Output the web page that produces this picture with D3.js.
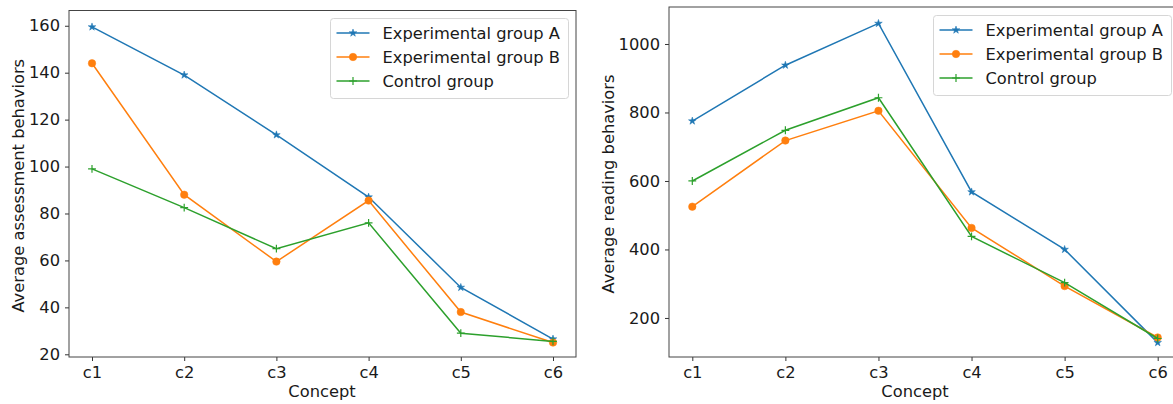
<!DOCTYPE html>
<html>
<head>
<meta charset="utf-8">
<script src="https://cdn.jsdelivr.net/npm/d3@7"></script>
<style>
  body { margin: 0; background: #fff; }
  text { font-family: "DejaVu Sans", sans-serif; fill: #1a1a1a; }
</style>
</head>
<body>
<div id="chart"></div>
<script>
// categories and series
const concepts = ["c1", "c2", "c3", "c4", "c5", "c6"];
const seriesNames = ["Experimental group A", "Experimental group B", "Control group"];
const seriesColors = ["#1f77b4", "#ff7f0e", "#2ca02c"];

// left panel: assessment behaviors
const assessA = [159.5, 139, 113.5, 87, 48.5, 26.5];
const assessB = [144, 88, 59.5, 85.5, 38, 25];
const assessC = [99, 82.5, 65, 76, 29, 25.5];
const assessTicks = [20, 40, 60, 80, 100, 120, 140, 160];

// right panel: reading behaviors
const readA = [775, 938, 1060, 568, 400, 128];
const readB = [525, 718, 805, 463, 293, 143];
const readC = [600, 748, 843, 438, 303, 140];
const readTicks = [200, 400, 600, 800, 1000];

const svg = d3.select("#chart")
    .append("svg")
    .attr("width", 1173)
    .attr("height", 404);

const fontSize = "16.3px";

// draw one panel
function drawPanel(opts) {
    const g = svg.append("g");
    const x = d3.scalePoint().domain(concepts).range([opts.x0 + opts.pad, opts.x1 - opts.pad]);
    const y = d3.scaleLinear().domain(opts.yDomain).range([opts.y1, opts.y0]);

    // axes
    g.append("g")
        .attr("transform", `translate(0,${opts.y1})`)
        .call(d3.axisBottom(x).tickSize(4).tickPadding(5))
        .call(a => a.select(".domain").remove());
    g.append("g")
        .attr("transform", `translate(${opts.x0},0)`)
        .call(d3.axisLeft(y).tickValues(opts.ticks).tickFormat(d3.format("d")).tickSize(4).tickPadding(5))
        .call(a => a.select(".domain").remove());
    g.selectAll(".tick text").style("font-size", fontSize).style("font-family", "DejaVu Sans");
    g.selectAll(".tick line").attr("stroke", "#333");

    // frame
    g.append("rect")
        .attr("x", opts.x0).attr("y", opts.y0)
        .attr("width", opts.x1 - opts.x0).attr("height", opts.y1 - opts.y0)
        .attr("fill", "none").attr("stroke", "#444").attr("stroke-width", 1);

    const line = d3.line()
        .x((d, i) => x(concepts[i]))
        .y(d => y(d));

    const symbols = [
        d3.symbol().type(d3.symbolStar).size(18),
        d3.symbol().type(d3.symbolCircle).size(44),
        d3.symbol().type(d3.symbolPlus).size(22)
    ];

    opts.series.forEach((vals, s) => {
        g.append("path")
            .datum(vals)
            .attr("d", line)
            .attr("fill", "none")
            .attr("stroke", seriesColors[s])
            .attr("stroke-width", 1.5);
        g.selectAll(null)
            .data(vals)
            .enter().append("path")
            .attr("transform", (d, i) => `translate(${x(concepts[i])},${y(d)})`)
            .attr("d", symbols[s])
            .attr("fill", s === 2 ? "none" : seriesColors[s])
            .attr("stroke", seriesColors[s])
            .attr("stroke-width", s === 2 ? 1.2 : 0.5);
    });

    // axis labels
    g.append("text")
        .attr("x", opts.xLabelX).attr("y", 397)
        .attr("text-anchor", "middle")
        .style("font-size", fontSize)
        .text("Concept");
    g.append("text")
        .attr("transform", `translate(${opts.yLabelX},${(opts.y0 + opts.y1) / 2 + 2}) rotate(-90)`)
        .attr("text-anchor", "middle")
        .style("font-size", fontSize)
        .text(opts.yLabel);

    // legend
    const lg = g.append("g").attr("transform", `translate(${opts.legX},${opts.legY})`);
    lg.append("rect")
        .attr("width", 238).attr("height", 80)
        .attr("rx", 3)
        .attr("fill", "#fff").attr("fill-opacity", 0.8)
        .attr("stroke", "#d6d6d6");
    seriesNames.forEach((name, s) => {
        const ry = 14.5 + s * 24;
        lg.append("line")
            .attr("x1", 6).attr("x2", 39)
            .attr("y1", ry).attr("y2", ry)
            .attr("stroke", seriesColors[s]).attr("stroke-width", 1.5);
        lg.append("path")
            .attr("transform", `translate(22.5,${ry})`)
            .attr("d", symbols[s])
            .attr("fill", s === 2 ? "none" : seriesColors[s])
            .attr("stroke", seriesColors[s])
            .attr("stroke-width", s === 2 ? 1.2 : 0.5);
        lg.append("text")
            .attr("x", 52).attr("y", ry)
            .attr("dy", "0.35em")
            .style("font-size", fontSize)
            .text(name);
    });
}

drawPanel({
    x0: 69, x1: 576, y0: 10.5, y1: 357, pad: 23,
    yDomain: [18.85, 166.5], ticks: assessTicks,
    series: [assessA, assessB, assessC],
    yLabel: "Average assessment behaviors", yLabelX: 24, xLabelX: 322,
    legX: 330.5, legY: 18.5
});

drawPanel({
    x0: 669, x1: 1181, y0: 7, y1: 357, pad: 23.3,
    yDomain: [86, 1108], ticks: readTicks,
    series: [readA, readB, readC],
    yLabel: "Average reading behaviors", yLabelX: 614, xLabelX: 915,
    legX: 933.5, legY: 15.5
});
</script>
</body>
</html>
